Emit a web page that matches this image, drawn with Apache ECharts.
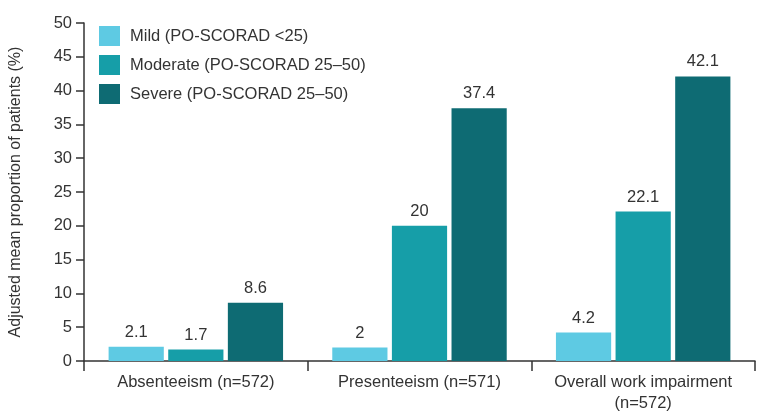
<!DOCTYPE html>
<html><head><meta charset="utf-8">
<script src="https://cdn.jsdelivr.net/npm/echarts@6/dist/echarts.min.js"></script>
<style>html,body{margin:0;padding:0;background:#fff}#c{width:768px;height:418px}</style>
</head><body><div id="c"></div>
<script>
const categories = ['Absenteeism (n=572)', 'Presenteeism (n=571)', 'Overall work impairment\n(n=572)'];
const seriesNames = ['Mild (PO-SCORAD <25)', 'Moderate (PO-SCORAD 25–50)', 'Severe (PO-SCORAD 25–50)'];
const mild = [2.1, 2, 4.2];
const moderate = [1.7, 20, 22.1];
const severe = [8.6, 37.4, 42.1];
const colors = ['#5ECAE3', '#169EA8', '#0E6B73'];
const yTicks = {min: 0, max: 50, interval: 5};

const font = 'Liberation Sans, Arial, sans-serif';
const chart = echarts.init(document.getElementById('c'), null, {renderer: 'canvas'});
const mk = (name, data, color) => ({
  name, type: 'bar', data, barGap: '8%', barCategoryGap: '22%',
  itemStyle: {color},
  label: {show: true, position: 'top', color: '#333', fontSize: 16.5, fontFamily: font, distance: 6}
});
chart.setOption({
  animation: false,
  textStyle: {fontFamily: font},
  grid: {left: 84, right: 13, top: 23, bottom: 57},
  legend: {
    orient: 'vertical', left: 94, top: 21, itemWidth: 21, itemHeight: 20, itemGap: 9,
    icon: 'rect',
    textStyle: {fontSize: 16.5, color: '#333', fontFamily: font, padding: [0, 0, 0, 5]},
    data: seriesNames
  },
  xAxis: {
    type: 'category', data: categories,
    axisLine: {lineStyle: {color: '#333', width: 1.5}},
    axisTick: {show: true, length: 10, interval: 0, lineStyle: {color: '#333', width: 1.5}},
    axisLabel: {interval: 0, hideOverlap: false, fontSize: 16.5, color: '#333', fontFamily: font, margin: 11, lineHeight: 21}
  },
  yAxis: {
    type: 'value', min: yTicks.min, max: yTicks.max, interval: yTicks.interval,
    name: 'Adjusted mean proportion of patients (%)', nameLocation: 'middle', nameGap: 60,
    nameTextStyle: {fontSize: 16, color: '#333', fontFamily: font},
    axisLine: {show: true, lineStyle: {color: '#333', width: 1.5}},
    axisTick: {show: true, length: 8, lineStyle: {color: '#333', width: 1.5}},
    axisLabel: {fontSize: 16.5, color: '#333', fontFamily: font, margin: 12},
    splitLine: {show: false}
  },
  series: [mk(seriesNames[0], mild, colors[0]), mk(seriesNames[1], moderate, colors[1]), mk(seriesNames[2], severe, colors[2])]
});
</script></body></html>
